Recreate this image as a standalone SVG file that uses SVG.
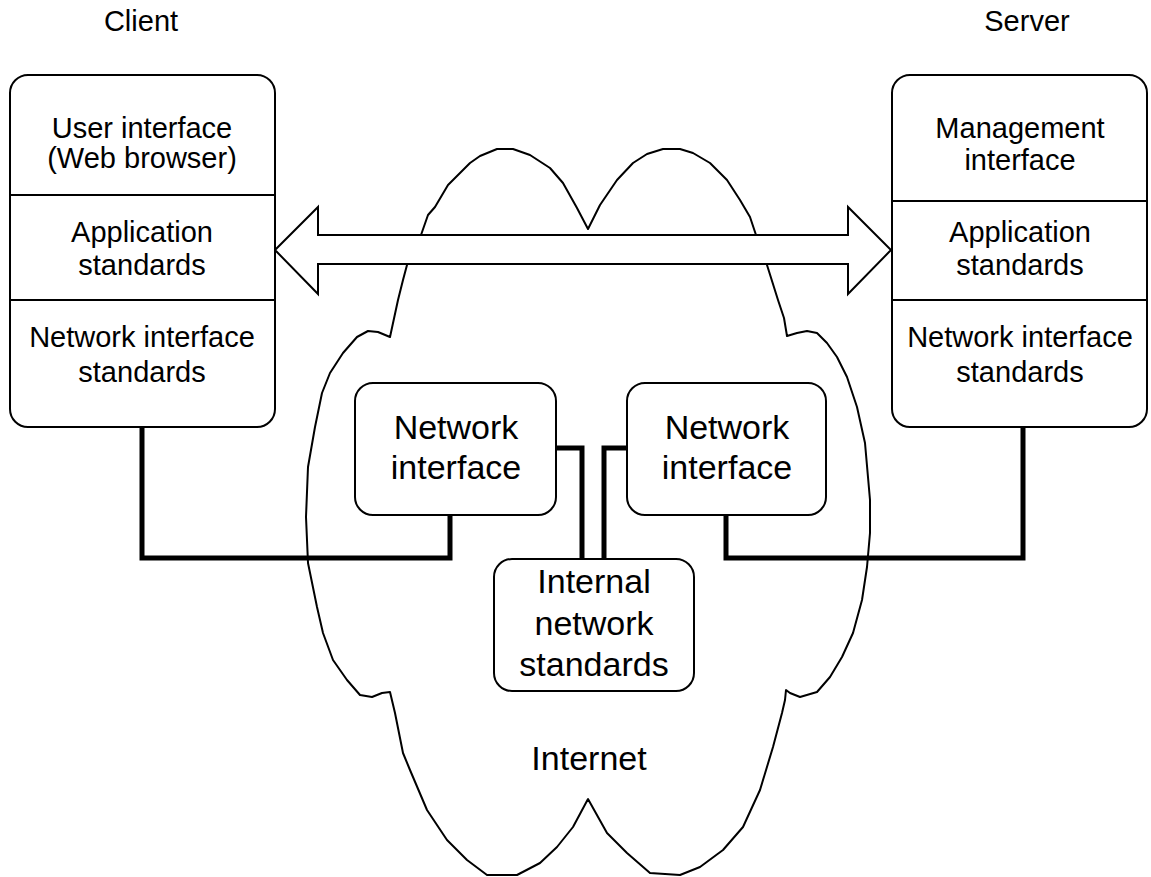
<svg xmlns="http://www.w3.org/2000/svg" width="1151" height="877" viewBox="0 0 1151 877">
<style>
.box{fill:#fff;stroke:#000;stroke-width:2}
.div{stroke:#000;stroke-width:2}
.t{font-family:"Liberation Sans",Arial,sans-serif;font-size:29px;fill:#000;text-anchor:middle}
.tb{font-family:"Liberation Sans",Arial,sans-serif;font-size:34px;fill:#000;text-anchor:middle}
.wire{fill:none;stroke:#000;stroke-width:5;stroke-linejoin:miter}
</style>
<rect width="1151" height="877" fill="#fff"/>
<g id="cloud">
<path fill="#fff" stroke="#000" stroke-width="2" stroke-linejoin="round" d="M390,337 L398,300 L403,280 L407,265 L415,245 L421,235 L428,215 L435,207 L448,185 L460,173 L470,163 L480,156 L497,149 L513,149 L530,155 L550,168 L563,183 L577,208 L588,229 L600,205 L617,180 L633,163 L647,154 L663,149 L680,149 L693,153 L710,163 L727,180 L740,200 L750,217 L756,235 L767,265 L778,300 L784,318 L787,336 L797,333 L807,331 L817,333 L827,343 L837,357 L847,377 L857,407 L865,443 L870,500 L870,533 L867,567 L862,600 L853,633 L842,657 L830,677 L817,692 L800,697 L790,693 L786,690 L785,700 L782,713 L773,747 L760,790 L743,827 L723,850 L700,867 L680,875 L650,873 L627,853 L607,833 L588,799 L573,827 L557,847 L540,863 L517,875 L487,875 L467,860 L447,840 L427,810 L410,770 L403,753 L395,713 L390,692 L382,693 L372,697 L360,695 L347,680 L333,660 L323,633 L317,607 L308,563 L306,517 L308,467 L315,427 L322,393 L330,373 L343,353 L357,337 L368,331 L378,332 Z"/>
<text class="tb" x="589" y="770">Internet</text>
</g>
<g id="connectors">
<polyline class="wire" points="142,427 142,558 450,558 450,515"/>
<polyline class="wire" points="556,448 582,448 582,559"/>
<polyline class="wire" points="627,448 604,448 604,559"/>
<polyline class="wire" points="726,515 726,558 1023,558 1023,427"/>
<polygon fill="#fff" stroke="#000" stroke-width="2" points="275,250 318,207 318,235 848,235 848,207 891,250 848,294 848,264 318,264 318,294"/>
</g>
<g id="client">
<text class="t" x="141" y="31">Client</text>
<rect class="box" x="10" y="75" width="265" height="352" rx="18" ry="18"/>
<line class="div" x1="10" y1="195" x2="275" y2="195"/>
<line class="div" x1="10" y1="300" x2="275" y2="300"/>
<text class="t" x="142" y="138">User interface</text>
<text class="t" x="142" y="168">(Web browser)</text>
<text class="t" x="142" y="242">Application</text>
<text class="t" x="142" y="275">standards</text>
<text class="t" x="142" y="347">Network interface</text>
<text class="t" x="142" y="382">standards</text>
</g>
<g id="server">
<text class="t" x="1027" y="31">Server</text>
<rect class="box" x="892" y="75" width="255" height="352" rx="18" ry="18"/>
<line class="div" x1="892" y1="201" x2="1147" y2="201"/>
<line class="div" x1="892" y1="300" x2="1147" y2="300"/>
<text class="t" x="1020" y="138">Management</text>
<text class="t" x="1020" y="170">interface</text>
<text class="t" x="1020" y="242">Application</text>
<text class="t" x="1020" y="275">standards</text>
<text class="t" x="1020" y="347">Network interface</text>
<text class="t" x="1020" y="382">standards</text>
</g>
<g id="ni-left">
<rect class="box" x="355" y="383" width="201" height="132" rx="18" ry="18"/>
<text class="tb" x="456" y="439">Network</text>
<text class="tb" x="456" y="479">interface</text>
</g>
<g id="ni-right">
<rect class="box" x="627" y="383" width="199" height="132" rx="18" ry="18"/>
<text class="tb" x="727" y="439">Network</text>
<text class="tb" x="727" y="479">interface</text>
</g>
<g id="internal">
<rect class="box" x="494" y="559" width="200" height="132" rx="18" ry="18"/>
<text class="tb" x="594" y="593">Internal</text>
<text class="tb" x="594" y="635">network</text>
<text class="tb" x="594" y="676">standards</text>
</g>
</svg>
